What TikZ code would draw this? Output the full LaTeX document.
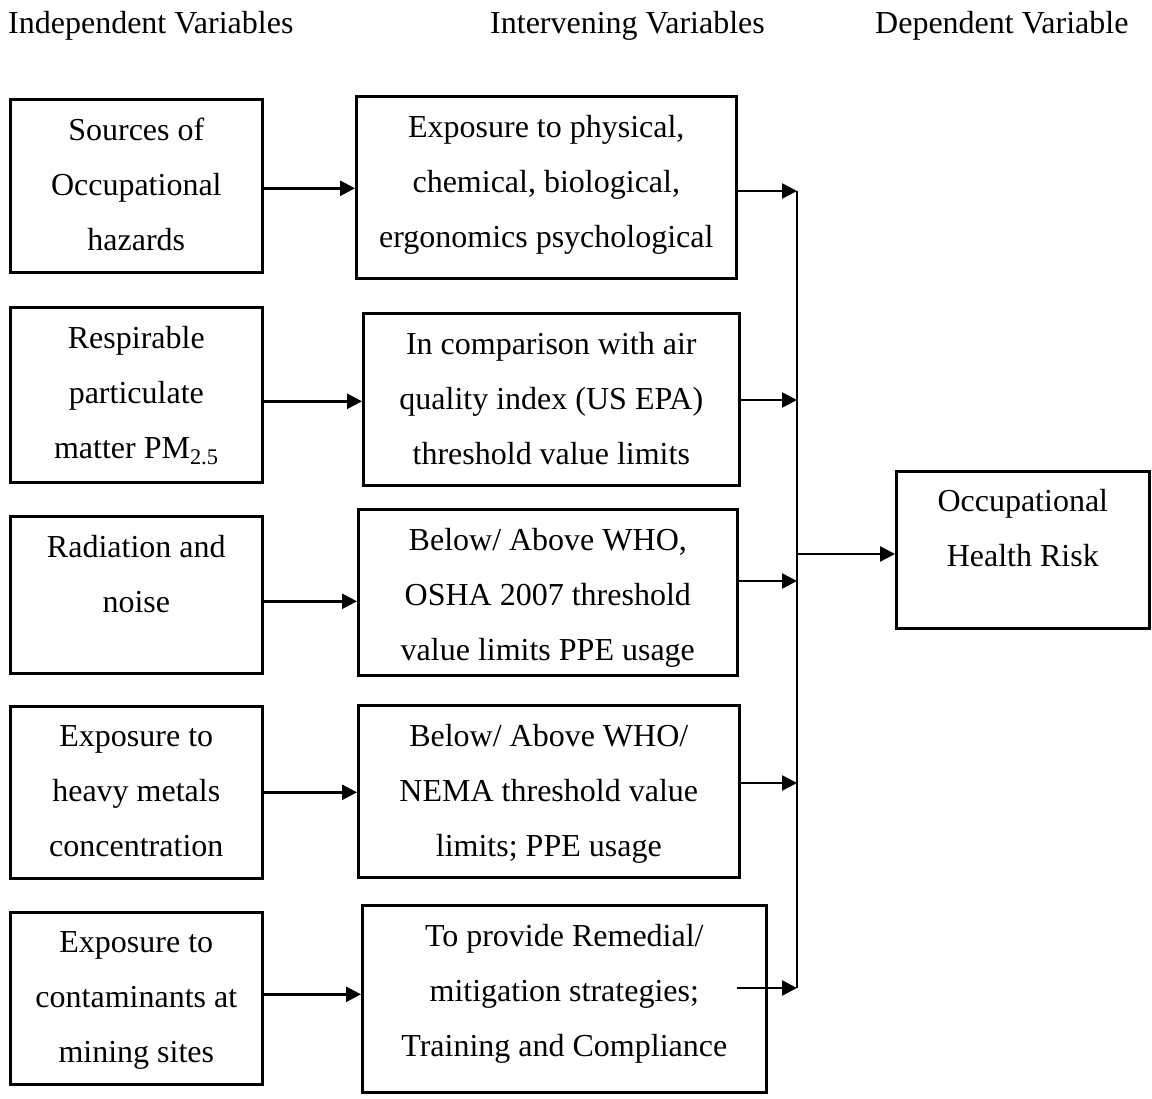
\documentclass[tikz,border=0pt]{standalone}
\usepackage{fontspec}
\setmainfont{Liberation Serif}
\usetikzlibrary{arrows.meta}
\begin{document}
\begin{tikzpicture}[x=1pt,y=-1pt,
  boxnode/.style={draw, line width=2.6pt, inner sep=0pt, anchor=north west, rectangle},
  txt/.style={align=center, inner sep=0pt, anchor=north, font=\fontsize{32}{55}\selectfont},
  hdr/.style={inner sep=0pt, anchor=base west, font=\fontsize{32}{55}\selectfont},
  arr/.style={line width=2.6pt, -{Triangle[length=15pt,width=15pt]}},
  bus/.style={line width=1.5pt}]
\useasboundingbox (0,0) rectangle (1152,1099);
% headers
\node[hdr] (h1) at (8,34) {Independent Variables};
\node[hdr] (h2) at (490,34) {Intervening Variables};
\node[hdr] (h3) at (875,34) {Dependent Variable};
% left boxes
\node[boxnode, minimum width=252pt, minimum height=173pt] (L1) at (9,98) {};
\node[boxnode, minimum width=252pt, minimum height=175pt] (L2) at (9,306) {};
\node[boxnode, minimum width=252pt, minimum height=157pt] (L3) at (9,515) {};
\node[boxnode, minimum width=252pt, minimum height=172pt] (L4) at (9,705) {};
\node[boxnode, minimum width=252pt, minimum height=172pt] (L5) at (9,911) {};
\node[txt] (L1t) at ([yshift=-20pt]L1.north) {Sources of\\Occupational\\hazards};
\node[txt] (L2t) at ([yshift=-20pt]L2.north) {Respirable\\particulate\\matter PM\textsubscript{2.5}};
\node[txt] (L3t) at ([yshift=-20pt]L3.north) {Radiation and\\noise};
\node[txt] (L4t) at ([yshift=-20pt]L4.north) {Exposure to\\heavy metals\\concentration};
\node[txt] (L5t) at ([yshift=-20pt]L5.north) {Exposure to\\contaminants at\\mining sites};
% middle boxes
\node[boxnode, minimum width=380pt, minimum height=182pt] (M1) at (355,95) {};
\node[boxnode, minimum width=376pt, minimum height=172pt] (M2) at (362,312) {};
\node[boxnode, minimum width=379pt, minimum height=166pt] (M3) at (357,508) {};
\node[boxnode, minimum width=381pt, minimum height=172pt] (M4) at (357,704) {};
\node[boxnode, minimum width=404pt, minimum height=187pt] (M5) at (361,904) {};
\node[txt] (M1t) at ([yshift=-20pt]M1.north) {Exposure to physical,\\chemical, biological,\\ergonomics psychological};
\node[txt] (M2t) at ([yshift=-20pt]M2.north) {In comparison with air\\quality index (US EPA)\\threshold value limits};
\node[txt] (M3t) at ([yshift=-20pt]M3.north) {Below/ Above WHO,\\OSHA 2007 threshold\\value limits PPE usage};
\node[txt] (M4t) at ([yshift=-20pt]M4.north) {Below/ Above WHO/\\NEMA threshold value\\limits; PPE usage};
\node[txt] (M5t) at ([yshift=-20pt]M5.north) {To provide Remedial/\\mitigation strategies;\\Training and Compliance};
% right box
\node[boxnode, minimum width=253pt, minimum height=157pt] (R) at (895,470) {};
\node[txt] (Rt) at ([yshift=-19pt]R.north) {Occupational\\Health Risk};
% bus coordinates
\coordinate (B1) at (797,191);
\coordinate (B2) at (797,400);
\coordinate (B3) at (797,581);
\coordinate (B4) at (797,783);
\coordinate (B5) at (797,988);
\coordinate (BR) at (797,554);
\coordinate (S5) at (737,988);
% left to middle arrows
\draw[arr] ([yshift=-2.5pt]L1.east) -- ([yshift=-2.5pt]L1.east -| M1.west);
\draw[arr] ([yshift=-6.5pt]L2.east) -- ([yshift=-6.5pt]L2.east -| M2.west);
\draw[arr] ([yshift=-6.5pt]L3.east) -- ([yshift=-6.5pt]L3.east -| M3.west);
\draw[arr] ([yshift=0pt]L4.east) -- ([yshift=0pt]L4.east -| M4.west);
\draw[arr] ([yshift=4pt]L5.east) -- ([yshift=4pt]L5.east -| M5.west);
% middle to bus
\draw[bus] (B1) -- (B5);
\draw[arr] (M1.east |- B1) -- (B1);
\draw[arr] (M2.east |- B2) -- (B2);
\draw[arr] (M3.east |- B3) -- (B3);
\draw[arr] (M4.east |- B4) -- (B4);
\draw[arr] (S5) -- (B5);
\draw[arr] (BR) -- (R.west |- BR);
\end{tikzpicture}
\end{document}
